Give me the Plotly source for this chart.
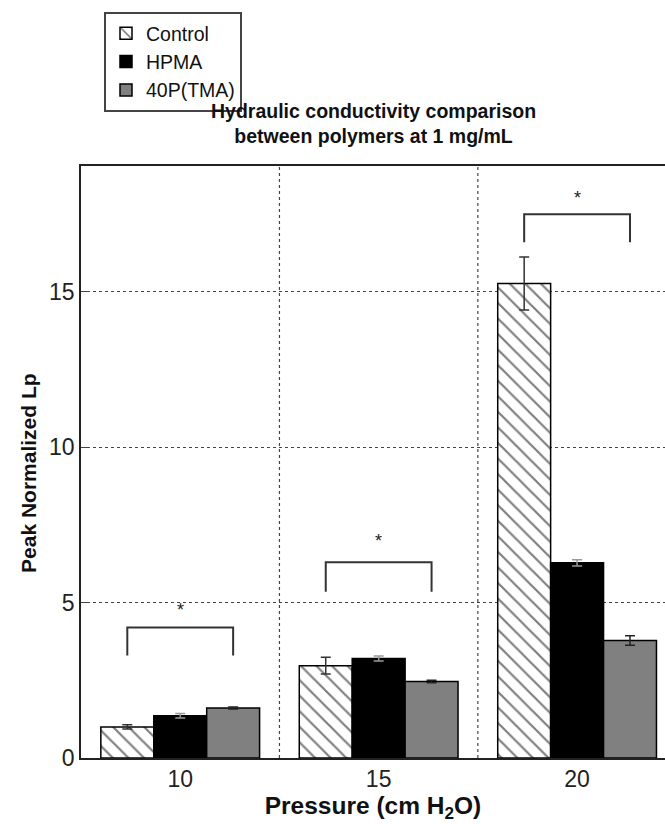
import plotly.graph_objects as go

pressures = ["10", "15", "20"]
series_names = ["Control", "HPMA", "40P(TMA)"]
control = [1.00, 2.97, 15.27]
control_err = [0.07, 0.27, 0.85]
hpma = [1.36, 3.20, 6.28]
hpma_err = [0.07, 0.08, 0.10]
p40 = [1.61, 2.46, 3.78]
p40_err = [0.03, 0.04, 0.15]
bracket_top = [4.2, 6.3, 17.5]
bracket_leg = [3.3, 5.35, 16.6]
star_y = [4.9, 7.1, 18.15]
title_text = "Hydraulic conductivity comparison<br>between polymers at 1 mg/mL"

FONT = "Liberation Sans, Arial"
pos = list(range(len(pressures)))
fig = go.Figure()
fig.add_trace(go.Bar(x=pos, y=control, name=series_names[0],
                     marker=dict(color="white", line=dict(color="black", width=1.5),
                                 pattern=dict(shape="\\", fgcolor="black", bgcolor="white", size=11, solidity=0.2)),
                     error_y=dict(type="data", array=control_err, color="#333", thickness=1.5, width=5)))
fig.add_trace(go.Bar(x=pos, y=hpma, name=series_names[1],
                     marker=dict(color="black", line=dict(color="black", width=1.5)),
                     error_y=dict(type="data", array=hpma_err, color="#999", thickness=1.5, width=5)))
fig.add_trace(go.Bar(x=pos, y=p40, name=series_names[2],
                     marker=dict(color="#808080", line=dict(color="black", width=1.5)),
                     error_y=dict(type="data", array=p40_err, color="#222", thickness=1.5, width=5)))

bw = 0.8 / 3
shapes = []
for i in pos:
    x0, x1 = i - bw, i + bw
    shapes.append(dict(type="path", xref="x", yref="y",
                       path=f"M {x0},{bracket_leg[i]} L {x0},{bracket_top[i]} L {x1},{bracket_top[i]} L {x1},{bracket_leg[i]}",
                       line=dict(color="#333", width=2)))
for g in [0.5, 1.5]:
    shapes.append(dict(type="line", xref="x", yref="paper", x0=g, x1=g, y0=0, y1=1,
                       line=dict(color="#444", width=1.2, dash="dot"), layer="below"))

annotations = [dict(x=i, y=star_y[i], text="*", showarrow=False, xref="x", yref="y",
                    font=dict(size=18, color="#222", family=FONT), yshift=-4)
               for i in pos]
annotations.append(dict(x=0.5, y=(758 - 124) / 592, xref="paper", yref="paper", xanchor="center", yanchor="middle",
                        text=f"<b>{title_text}</b>", showarrow=False,
                        font=dict(size=19.5, color="#111", family=FONT)))
annotations.append(dict(x=-0.0908, y=(758 - 473) / 592, xref="paper", yref="paper",
                        xanchor="center", yanchor="middle", textangle=-90, showarrow=False,
                        text="<b>Peak Normalized Lp</b>", font=dict(size=21, color="#111", family=FONT)))

fig.update_layout(
    width=665, height=824,
    margin=dict(l=81, r=0, t=166, b=66, autoexpand=False),
    paper_bgcolor="white", plot_bgcolor="white",
    barmode="group", bargap=0.2, bargroupgap=0,
    font=dict(family=FONT, color="#222"),
    legend=dict(xref="paper", yref="paper", x=(104 - 81) / 584, y=(758 - 12) / 592,
                xanchor="left", yanchor="top", bordercolor="#444", borderwidth=2,
                bgcolor="white", font=dict(size=19.5, color="#111"), tracegroupgap=0),
    showlegend=True,
    shapes=shapes, annotations=annotations,
    xaxis=dict(range=[-0.5, 2.443], tickvals=pos, ticktext=pressures, showgrid=False,
               showline=True, linecolor="#222", linewidth=1.5, mirror=True, ticks="",
               tickfont=dict(size=23, color="#222"),
               title=dict(text="<b>Pressure (cm H<sub>2</sub>O)</b>", font=dict(size=24.5, color="#111"), standoff=3)),
    yaxis=dict(range=[0, 19.05], tickvals=[0, 5, 10, 15], showgrid=True, gridcolor="#444",
               griddash="dot", gridwidth=1.2, zeroline=False,
               showline=True, linecolor="#222", linewidth=1.5, mirror=False, ticks="inside", ticklen=6,
               tickfont=dict(size=23, color="#222")),
)
fig.write_html("out.html")
